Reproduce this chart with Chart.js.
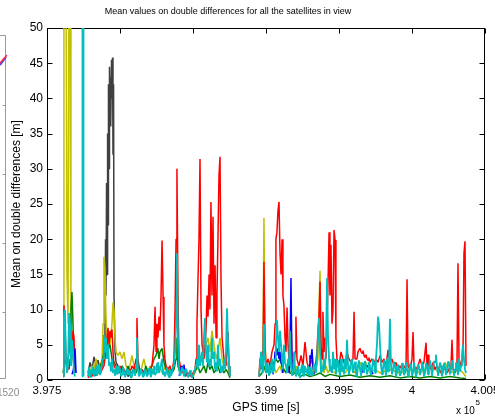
<!DOCTYPE html>
<html>
<head>
<meta charset="utf-8">
<script src="https://cdn.jsdelivr.net/npm/chart.js@4.4.1/dist/chart.umd.min.js"></script>
<style>
  html, body { margin: 0; padding: 0; background: #fff; }
</style>
</head>
<body>
<canvas id="c" width="495" height="417"></canvas>
<script>
// GPS time [s] / mean double difference [m] pairs, one list per satellite colour
// a null value breaks the line (no data)
const cyanSeries = [
  [397610,0.5],[397616,9],[397623,10],[397630,3],[397637,1],[397644,2],[397651,9.5],[397658,8],[397664,2],[397671,5.7],[397678,4],[397685,1],[397692,0.5],[397715,null],
  [397740,0.5],[397743,70],[397747,70],[397750,0.5],[397765,null],
  [397781,0.5],[397788,1.8],[397795,0.4],[397801,1.5],[397808,0.8],[397815,1.9],[397822,0.5],[397829,1.2],[397836,2],[397842,0.6],[397849,1],[397856,2.2],[397863,0.7],[397870,1.5],[397877,2.5],[397884,3],
  [397890,6.4],[397897,4],[397904,6],[397911,3],[397918,5],[397925,2],[397932,2.5],[397938,1.2],[397945,3],[397952,1],[397959,1.5],[397966,0.6],[397973,2],[397979,0.8],[397986,1],[397993,2],
  [398000,1.5],[398007,0.5],[398014,0.8],[398020,1.8],[398027,1.2],[398034,0.4],[398041,1],[398048,1.6],[398055,0.7],[398062,1.4],[398068,1],[398075,0.3],[398082,0.5],[398089,1.5],[398096,1.2],[398103,0.6],
  [398110,2],[398116,6],[398123,1.5],[398130,0.5],[398137,0.8],[398144,1.6],[398151,1],[398157,0.4],[398164,0.6],[398171,1.5],[398178,1.2],[398185,0.5],[398192,0.8],[398199,1.7],
  [398205,1],[398212,0.4],[398219,1.5],[398226,0.8],[398233,2],[398240,0.7],[398247,1],[398253,2.2],[398260,2.5],[398267,1],[398274,1.5],[398281,2.2],[398288,3],[398295,0.8],[398301,1.2],[398308,0.5],
  [398315,1],[398322,1.8],[398329,0.8],[398336,0.4],[398342,1.5],[398349,0.6],[398356,1],[398363,1.8],[398370,2],[398377,4],[398384,8],[398390,18],[398397,6],[398404,2],
  [398411,0.6],[398418,1],[398425,1.8],[398432,1.5],[398438,0.5],[398445,0.8],[398452,1.6],[398459,1.2],[398466,0.4],[398473,0.6],[398480,1.4],[398486,1],[398493,0.3],[398500,0.5],[398507,1.2],[398514,1.5],
  [398521,2.2],[398527,3],[398534,1.5],[398541,5],[398548,2],[398555,3],[398562,4],[398568,2],[398575,6],[398582,8.8],[398589,4],[398596,2.5],[398603,5],[398610,2],[398616,3],
  [398623,2],[398630,6],[398637,3],[398644,4],[398651,1.5],[398658,2.5],[398664,1.2],[398671,5],[398678,2],[398685,3],[398692,1],[398699,2],[398705,1.2],[398712,3],[398719,1.5],[398726,4],[398733,10.2],
  [398740,5],[398747,2],[398753,0.5],[398850,null],
  [398952,0.5],[398959,2],[398966,4],[398973,2],[398979,1],[398986,8],[398993,3],[399000,1],[399007,2.5],[399014,2],[399020,0.6],[399027,1],[399034,2.2],[399041,3],[399048,1],[399055,1.5],[399062,3],
  [399068,5],[399075,8.5],[399082,6],[399089,4],[399096,7],[399103,5],[399110,3],[399116,1.5],[399123,5],[399130,2.5],[399137,2],[399144,1],[399151,3],[399157,2],[399164,7],[399171,2],[399178,0.6],
  [399185,1],[399192,4],[399199,1.5],[399205,0.5],[399212,1],[399219,2],[399226,0.8],[399233,0.3],[399240,1.5],[399247,2.2],[399253,1],[399260,0.5],[399267,2],[399274,1.2],[399281,1],[399288,2],
  [399295,0.7],[399301,1.8],[399308,1.5],[399315,0.6],[399322,1],[399329,2.3],[399336,2],[399342,1],[399349,3],[399356,6],[399363,8.8],[399370,4],[399377,1],[399384,2],[399390,1.2],[399397,3],
  [399404,1.5],[399411,5],[399418,14.5],[399425,6],[399432,3],[399438,1.2],[399445,2],[399452,1],[399459,4],[399466,1.5],[399473,3],[399479,0.8],[399486,2],[399493,2.8],[399500,1.5],[399507,0.6],
  [399514,3],[399520,1.2],[399527,2],[399534,0.8],[399541,3],[399548,1.5],[399555,5.7],[399562,2],[399568,0.8],[399575,1.5],[399582,2.5],[399589,3],[399596,1],[399603,2],[399610,2.6],[399616,1],
  [399623,0.4],[399630,2],[399637,2.8],[399644,1.5],[399651,0.6],[399658,2.5],[399664,2],[399671,1],[399678,2.7],[399685,2],[399692,0.8],[399699,1.5],[399705,2.6],[399712,2],[399719,0.7],
  [399726,1.5],[399733,3],[399740,2.5],[399747,1],[399753,3],[399760,5],[399767,9],[399774,8],[399781,5],[399788,2],[399795,0.8],[399801,1.5],[399808,2.8],[399815,2],[399822,0.6],[399829,3],
  [399836,1.2],[399842,2],[399849,8.7],[399856,2],[399863,0.8],[399870,1.5],[399877,2.6],[399884,2],[399890,0.5],[399897,1],[399904,2.2],[399911,1.5],[399918,0.6],[399925,1],[399932,2.4],
  [399938,2],[399945,0.7],[399952,1],[399959,2.5],[399966,1.5],[399973,0.5],[399979,1],[399986,2.3],[399993,2],[400000,0.6],[400007,1],[400014,2.5],[400021,1.5],[400027,0.4],[400034,1],
  [400041,2.2],[400048,2],[400055,0.7],[400062,1.5],[400068,2.6],[400075,2],[400082,0.5],[400089,1],[400096,2.4],[400103,2],[400110,0.8],[400116,1.5],[400123,2.8],[400130,2],[400137,0.6],
  [400144,1.5],[400151,2.7],[400158,2.5],[400164,3.6],[400171,2],[400178,0.6],[400185,1.5],[400192,2.5],[400199,2],[400205,0.5],[400212,1],[400219,2.4],[400226,2],[400233,0.7],[400240,1.5],
  [400247,2.6],[400253,2.5],[400260,0.8],[400267,1.5],[400274,2.8],[400281,2],[400288,0.6],[400295,1.5],[400301,2.5],[400308,2],[400315,0.7],[400322,3],[400329,1.2],[400336,2],[400342,3.5],
  [400349,5],[400356,3],[400363,1.5],[400370,1]
];

const blueSeries = [
  [397671,0.8],[397678,1.2],[397685,2],[397692,4.5],[397699,1],[397715,null],
  [398404,0.6],[398411,1],[398418,1.8],[398425,2],[398432,1.5],[398438,2.2],[398445,1],[398452,0.5],[398470,null],
  [399048,0.8],[399055,2],[399062,4],[399068,4.7],[399075,3.5],[399082,4.5],[399089,3],[399096,4],[399103,2.5],[399110,2],[399116,1],[399130,null],
  [399157,1],[399164,3],[399171,14.5],[399178,2],[399185,0.8],[399200,null],
  [399288,0.8],[399295,2],[399301,3.5],[399308,3],[399315,4.4],[399322,2],[399329,0.8],[399345,null],
  [399651,0.8],[399658,1.2],[399664,1.5],[399671,1.7],[399678,1.7],[399685,1.9],[399692,2],[399699,1.9],[399705,1.8],[399712,1.7],[399719,1.6],[399726,1.2],[399733,0.8]
];

const redSeries = [
  [397610,0.5],[397616,10.6],[397623,8],[397630,3],[397637,1],[397644,2],[397651,1.5],[397658,3],[397664,2],[397671,4],[397678,7],[397685,6],[397692,1],[397715,null],
  [397781,0.3],[397795,0.8],[397808,0.5],[397822,1],[397836,0.6],[397849,1.2],[397863,0.8],[397877,1.5],[397890,2],[397904,4],[397911,6],[397918,7.4],[397925,5],[397932,7],[397938,6],[397945,7.2],[397952,4],
  [397959,2],[397973,1.5],[397986,1],[398000,2],[398014,1],[398027,1.5],[398041,0.8],[398055,1.2],[398068,1],[398082,2],[398096,1.5],[398110,3],[398116,8.8],[398123,3],[398137,1],[398151,1.5],[398164,0.8],
  [398178,1],[398192,1.2],[398205,1.5],[398219,2],[398233,5],[398240,10.4],[398247,4],[398253,8],[398260,6],[398267,9],[398274,7],[398281,12],[398288,19.8],[398295,11.8],[398301,5],[398308,3],[398315,2],
  [398329,1.5],[398342,2],[398356,1],[398370,3],[398377,10],[398384,20],[398390,30],[398397,12],[398404,3],[398418,1.5],[398432,1],[398445,1.5],[398459,0.8],[398473,1],[398486,0.5],[398500,1],[398514,1.5],
  [398521,3],[398527,8],[398534,14],[398541,20],[398548,31.4],[398555,10],[398562,5],[398575,3],[398589,7],[398596,12],[398603,9],[398610,15],[398616,10],[398623,25.3],[398630,12],[398637,23.2],[398644,8],
  [398651,16.3],[398658,6],[398664,12],[398671,20],[398678,29],[398685,31.7],[398692,14],[398699,6],[398712,3],[398726,2],[398733,4],[398740,6.8],[398747,2],[398753,0.5],[398850,null],
  [398952,0.5],[398959,3],[398966,1.5],[398973,4],[398979,2],[398986,16.8],[398993,5],[399000,2],[399014,3],[399027,2],[399041,4],[399055,5],[399062,8],[399068,20],[399075,21],[399082,24],[399089,25.3],
  [399096,18],[399103,15],[399110,20],[399116,12],[399123,10.6],[399130,6],[399137,4],[399144,10.3],[399151,5],[399157,3],[399164,4],[399171,9],[399178,3],[399192,2],[399199,4],[399205,9],[399212,3],
  [399226,2],[399240,3.5],[399253,2],[399267,5.4],[399281,2.5],[399295,1.5],[399308,3],[399322,2],[399336,1.5],[399349,4],[399356,7],[399363,9],[399370,14],[399377,5],[399384,3],[399390,9.7],[399397,4],
  [399404,6],[399411,3],[399418,8],[399425,14],[399432,21],[399438,12],[399445,19.2],[399452,8],[399459,10],[399466,21.3],[399473,19.9],[399479,6],[399486,3],[399500,2],[399514,4],[399527,3],[399541,2],
  [399555,4],[399568,3],[399582,2.5],[399596,3],[399603,9.7],[399610,3],[399623,3],[399630,4],[399637,4.3],[399644,4.5],[399651,4],[399658,3.8],[399664,4.2],[399671,3.5],[399678,3.2],[399685,3.6],
  [399692,3],[399699,2.8],[399705,3.2],[399712,2.5],[399726,3],[399740,2.5],[399753,3],[399767,2.5],[399781,3.5],[399795,2.5],[399808,3],[399822,2],[399836,4.3],[399849,2.5],[399863,3],[399877,2],
  [399890,2.5],[399904,1.5],[399918,2],[399932,1.5],[399945,2],[399959,1.5],[399966,14.3],[399973,2],[399986,1.5],[400000,3],[400007,6.8],[400014,2],[400027,1.5],[400041,2],[400055,3],[400068,2],
  [400082,2.5],[400096,5.3],[400103,2],[400110,3.6],[400116,2],[400130,1.5],[400144,2.5],[400158,1.5],[400171,2],[400185,1.5],[400199,1],[400212,2],[400226,1.5],[400240,1],[400253,1.5],[400267,2],
  [400274,5.7],[400281,1.5],[400295,1],[400308,2],[400315,16.6],[400322,3],[400336,2],[400349,3],[400356,18],[400363,19.7],[400370,2]
];

const greenSeries = [
  [397610,1],[397623,3],[397637,2],[397651,4],[397658,6],[397664,10],[397671,12.5],[397678,8],[397685,3],[397692,1],[397715,null],
  [397781,0.5],[397795,1],[397808,0.8],[397822,1.5],[397836,1],[397849,1.2],[397863,2],[397877,2.5],[397890,4],[397897,6],[397904,5],[397911,6],[397918,4.5],[397932,5],[397945,3],[397959,2.5],[397973,2],
  [397986,1.5],[398000,1],[398014,2],[398027,1.5],[398041,1],[398055,2],[398068,1.2],[398082,1],[398096,1.5],[398110,1],[398123,2],[398137,1],[398151,1.5],[398164,1],[398178,2],[398192,1],[398205,1.5],
  [398219,2],[398233,3],[398247,3.5],[398260,4.5],[398267,3],[398274,4],[398288,4.5],[398295,3.5],[398301,2.5],[398315,1.5],[398329,1],[398342,1.5],[398356,1],[398370,1.5],[398384,3],[398390,6],[398397,2],
  [398411,1],[398425,1.5],[398438,0.8],[398452,1],[398466,0.5],[398480,1],[398493,0.5],[398507,1],[398521,1.5],[398534,2],[398548,1],[398562,1.5],[398575,2],[398589,1],[398603,2.5],[398616,1.5],[398630,2],
  [398644,1],[398658,1.5],[398671,2],[398685,1],[398699,1.5],[398712,1],[398726,1.5],[398740,1],[398753,0.3],[398850,null],
  [398952,0.5],[398973,1],[398986,2],[399000,1],[399014,1.5],[399027,1],[399041,2],[399055,2.5],[399068,3],[399082,2.5],[399096,3],[399110,2],[399123,1.5],[399137,1],[399151,2],[399164,1],[399185,0.8],
  [399205,1.2],[399233,0.5],[399267,0.8],[399301,0.5],[399336,0.7],[399370,1],[399404,0.5],[399438,0.8],[399507,0.5],[399575,0.7],[399644,0.4],[399712,0.6],[399781,0.4],[399849,0.6],[399918,0.3],
  [399986,0.5],[400055,0.3],[400123,0.5],[400192,0.3],[400260,0.5],[400329,0.3],[400370,0.2]
];

const yellowSeries = [
  [397610,2],[397616,60],[397623,60],[397630,60],[397637,15],[397644,8],[397651,60],[397658,60],[397664,10],[397671,5],[397678,3],[397685,2],[397692,1],[397715,null],
  [397781,0.5],[397795,1],[397808,2],[397822,1.5],[397836,3],[397849,1.5],[397863,2],[397877,3],[397884,8],[397890,17.5],[397897,16],[397904,9],[397911,6],[397918,4],[397932,5],[397945,8],[397952,11],
  [397959,10],[397966,6],[397973,4],[397986,3.5],[398000,4],[398014,3],[398027,4],[398041,2],[398055,1.5],[398068,2],[398082,3.5],[398096,2],[398110,1.5],[398123,2.5],[398137,1],[398151,2],[398164,3],
  [398178,1.5],[398192,1],[398205,2],[398219,1.5],[398233,1],[398247,2],[398260,1.5],[398274,2],[398288,1],[398301,1.5],[398315,2],[398329,1],[398342,1.5],[398356,1],[398370,2],[398384,10],[398390,20.3],
  [398397,8],[398404,2],[398418,1],[398432,1.5],[398445,0.8],[398459,1],[398473,0.5],[398486,1],[398500,0.5],[398514,1],[398527,2],[398541,3],[398548,2],[398562,4],[398575,3],[398589,5],[398603,6],
  [398616,4],[398630,7],[398644,5],[398658,3],[398671,4],[398685,6],[398699,3],[398712,2],[398726,3],[398740,2],[398753,0.5],[398850,null],
  [398952,1],[398966,2],[398979,3],[398986,23],[398993,6],[399000,2],[399014,1],[399027,1.5],[399041,1],[399055,2],[399068,1],[399082,1.5],[399096,2],[399110,1],[399123,1.5],[399137,1],[399151,2],
  [399164,1],[399178,1.5],[399192,1],[399205,2],[399219,1],[399233,1.5],[399247,1],[399260,2],[399274,1],[399288,1.5],[399301,1],[399315,2],[399329,1],[399342,1.5],[399356,3],[399363,10],[399370,15.5],
  [399377,4],[399384,1.5],[399397,1],[399411,2],[399425,1],[399438,1.5],[399473,1],[399507,1.5],[399541,1],[399575,2],[399610,1],[399644,2.5],[399664,1.5],[399685,2.5],[399712,1],[399747,1.5],[399781,1],
  [399849,1.5],[399918,1],[399986,1.5],[400055,1],[400123,2],[400192,1],[400226,2.5],[400260,1],[400329,1.5],[400370,0.5]
];

const graySeries = [
  [397781,1],[397795,2.5],[397808,1.5],[397822,3.3],[397836,2],[397849,2.8],[397863,1.5],[397877,2],[397890,3],[397897,6],[397901,20],[397904,12],[397908,28],[397911,15],[397915,35],[397918,22],
  [397921,42],[397925,30],[397928,44.5],[397932,38],[397935,43],[397938,36],[397942,45.5],[397945,40],[397949,45.8],[397952,32],[397956,42],[397959,12],[397966,4],[397973,2.5],
  [397986,2],[398000,1],[398014,1.5],[398027,0.8],[398041,1.2],[398055,0.5],[398068,0.8]
];

const seriesColors = ['#00bfbf', '#0000ff', '#ff0000', '#008000', '#bfbf00', '#404040'];
const seriesWidths = [1.8, 1.5, 1.5, 1.5, 1.5, 1.5];
const seriesList = [cyanSeries, blueSeries, redSeries, greenSeries, yellowSeries, graySeries];

const xTickValues = [397500, 398000, 398500, 399000, 399500, 400000, 400500];
const xTickLabels = ['3.975', '3.98', '3.985', '3.99', '3.995', '4', '4.005'];
const yTickValues = [0, 5, 10, 15, 20, 25, 30, 35, 40, 45, 50];

const FONT = '"Liberation Sans", Arial, sans-serif';

// MATLAB-like axes box with inward ticks, plus title and exponent label
const framePlugin = {
  id: 'frame',
  beforeDatasetsDraw(chart) {
    const { ctx, chartArea: a, scales: { x, y } } = chart;
    const L = Math.round(a.left) + 0.5, R = Math.round(a.right) - 0.5;
    const T = Math.round(a.top) + 0.5, B = Math.round(a.bottom) - 0.5;
    ctx.save();
    ctx.strokeStyle = '#000';
    ctx.lineWidth = 1;
    ctx.strokeRect(L, T, R - L, B - T);
    ctx.beginPath();
    xTickValues.forEach(v => {
      const px = Math.round(x.getPixelForValue(v)) + 0.5;
      ctx.moveTo(px, B); ctx.lineTo(px, B - 5);
      ctx.moveTo(px, T); ctx.lineTo(px, T + 5);
    });
    yTickValues.forEach(v => {
      const py = Math.round(y.getPixelForValue(v)) + 0.5;
      ctx.moveTo(L, py); ctx.lineTo(L + 5, py);
      ctx.moveTo(R, py); ctx.lineTo(R - 5, py);
    });
    ctx.stroke();
    ctx.restore();
  },
  afterDraw(chart) {
    const { ctx } = chart;
    ctx.save();
    ctx.fillStyle = '#000';
    ctx.textBaseline = 'middle';
    ctx.textAlign = 'center';
    ctx.font = '9px ' + FONT;
    ctx.fillText('Mean values on double differences for all the satellites in view', 228, 12);
    ctx.textAlign = 'left';
    ctx.font = '10px ' + FONT;
    ctx.fillText('x 10', 456, 411);
    const w = ctx.measureText('x 10').width;
    ctx.font = '8px ' + FONT;
    ctx.fillText('5', 456 + w + 0.5, 403);

    // edge of the neighbouring figure on the left
    ctx.strokeStyle = '#9a9a9a';
    ctx.lineWidth = 1;
    ctx.beginPath();
    ctx.moveTo(0, 35.5); ctx.lineTo(5.5, 35.5); ctx.lineTo(5.5, 378.5); ctx.lineTo(0, 378.5);
    [105, 174, 243, 312].forEach(py => { ctx.moveTo(2.5, py + 0.5); ctx.lineTo(5.5, py + 0.5); });
    ctx.stroke();
    ctx.strokeStyle = '#4040e0';
    ctx.lineWidth = 2;
    ctx.beginPath(); ctx.moveTo(0, 65); ctx.lineTo(6, 57); ctx.stroke();
    ctx.strokeStyle = '#ff3050';
    ctx.lineWidth = 1.5;
    ctx.beginPath(); ctx.moveTo(0, 63); ctx.lineTo(7, 55); ctx.stroke();
    ctx.fillStyle = '#8a8a8a';
    ctx.font = '10px ' + FONT;
    ctx.fillText('1520', -3, 393);
    ctx.restore();
  }
};

const ctx = document.getElementById('c').getContext('2d');
new Chart(ctx, {
  type: 'line',
  data: {
    datasets: seriesList.map((s, i) => ({
      data: s.map(([t, v]) => ({ x: t, y: v })),
      borderColor: seriesColors[i],
      borderWidth: seriesWidths[i],
      borderJoinStyle: 'bevel',
      pointRadius: 0,
      tension: 0,
      spanGaps: false,
      fill: false
    }))
  },
  options: {
    responsive: false,
    animation: false,
    devicePixelRatio: 1,
    layout: { padding: { left: 0, right: 10, top: 28, bottom: 0 } },
    plugins: {
      legend: { display: false },
      tooltip: { enabled: false },
      title: { display: false }
    },
    scales: {
      x: {
        type: 'linear',
        min: 397500,
        max: 400500,
        grid: { display: false, drawTicks: false },
        border: { display: false },
        afterBuildTicks: s => { s.ticks = xTickValues.map(v => ({ value: v })); },
        ticks: {
          autoSkip: false,
          maxRotation: 0,
          padding: 4,
          color: '#000',
          font: { family: FONT, size: 11.5 },
          callback: (v, i) => xTickLabels[i]
        },
        title: {
          display: true,
          text: 'GPS time [s]',
          color: '#000',
          font: { family: FONT, size: 12 },
          padding: { top: 0, bottom: 2 }
        },
        afterFit: s => { s.height = 37; s.paddingLeft = 0; s.paddingRight = 0; }
      },
      y: {
        min: 0,
        max: 50,
        grid: { display: false, drawTicks: false },
        border: { display: false },
        afterBuildTicks: s => { s.ticks = yTickValues.map(v => ({ value: v })); },
        ticks: {
          padding: 4,
          color: '#000',
          font: { family: FONT, size: 12 }
        },
        title: {
          display: true,
          text: 'Mean on double differences [m]',
          color: '#000',
          font: { family: FONT, size: 12 },
          padding: { top: 9, bottom: 0 }
        },
        afterFit: s => { s.width = 47; s.paddingTop = 0; s.paddingBottom = 0; }
      }
    }
  },
  plugins: [framePlugin]
});
</script>
</body>
</html>
